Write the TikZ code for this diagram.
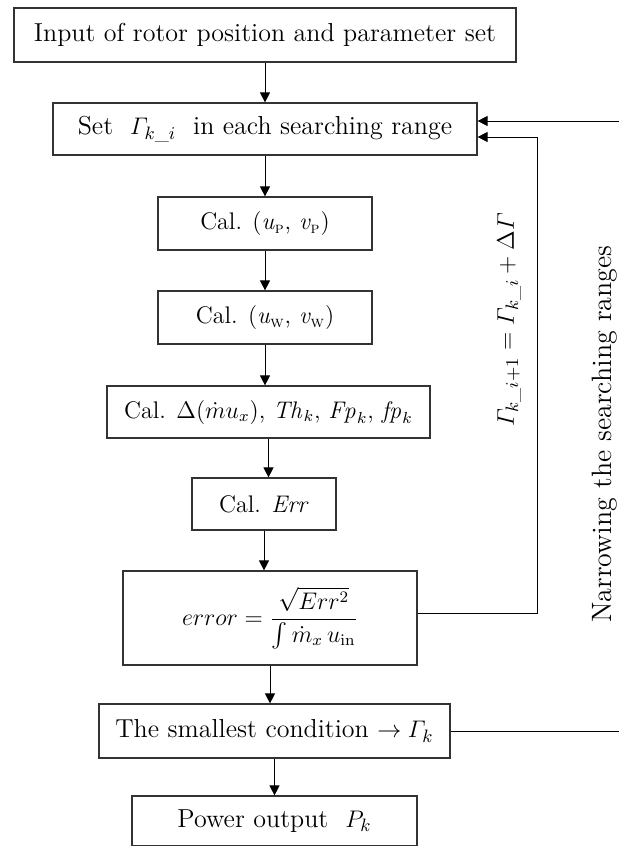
\documentclass[tikz,border=0pt]{standalone}
\usepackage{amsmath}
\usetikzlibrary{arrows.meta}

\begin{document}
\begin{tikzpicture}[x=0.5pt, y=-0.5pt, % one unit = one pixel of the sketch
    box/.style={draw=black!80, line width=0.6pt, inner sep=0pt, font=\fontsize{13}{15}\selectfont},
    smallbox/.style={box, font=\fontsize{12}{14}\selectfont},
    flow/.style={-{Triangle[length=5pt, width=5pt]}, line width=0.5pt},
    lbl/.style={rotate=90, inner sep=0pt, font=\fontsize{13}{15}\selectfont}]
    \useasboundingbox (0,0) rectangle (619,846);
        % Start
        \node[box, minimum width=251pt, minimum height=27pt] (box1) at (265,35) {Input of rotor position and parameter set};
        \node[box, minimum width=212pt, minimum height=26pt] (box2) at (265,129) {Set \ $\varGamma_{k\_i}$ \ in each searching range};
		% Calculation steps
        \node[smallbox, minimum width=107pt, minimum height=26.5pt] (box3) at (265,223.5) {Cal. (\textit{u}\textsubscript{\textsc{p}}, \textit{v}\textsubscript{\textsc{p}})};
        \node[smallbox, minimum width=107pt, minimum height=26.5pt] (box4) at (265,317.5) {Cal. (\textit{u}\textsubscript{\textsc{w}}, \textit{v}\textsubscript{\textsc{w}})};
        \node[smallbox, minimum width=161.5pt, minimum height=26pt] (box5) at (268.5,412) {Cal. $\Delta(\dot{m}u_x)$, $\mathit{Th}_k$, $\mathit{Fp}_k$, $\mathit{fp}_k$};
        \node[smallbox, minimum width=72pt, minimum height=26pt] (box6) at (264,504) {Cal. \textit{Err}};
        \node[smallbox, minimum width=147pt, minimum height=47pt] (box7) at (270,618) {$\displaystyle error=\frac{\sqrt{Err^2}}{\int \dot{m}_x\,u_{\mathrm{in}}}$};
		% Result
        \node[box, minimum width=175.5pt, minimum height=27pt] (box8) at (274.5,731) {The smallest condition $\rightarrow \varGamma_k$};
        \node[box, minimum width=142.5pt, minimum height=25pt] (box9) at (274.5,821) {Power output \ $P_k$};
        % Arrows down the chain
        \foreach \a/\b in {box1/box2, box2/box3, box3/box4, box4/box5, box5/box6, box6/box7, box7/box8, box8/box9}
            \draw[flow] (\a.south) -- (\a.south |- \b.north);
        % Inner loop
        \coordinate (inner) at (537,613);
        \draw[flow] ([yshift=2.5pt]box7.east) -- (inner) |- ([yshift=-4pt]box2.east);
        \node[lbl] (update) at (509,320) {$\varGamma_{k\_i+1}=\varGamma_{k\_i}+\Delta\varGamma$};
        % Outer loop
        \coordinate (outer) at (626,731);
        \draw[flow] (box8.east) -- (outer) |- ([yshift=4pt]box2.east);
        \node[lbl, font=\fontsize{14}{16}\selectfont] (narrow) at (605,434) {Narrowing the searching ranges};
    \end{tikzpicture}
\end{document}
